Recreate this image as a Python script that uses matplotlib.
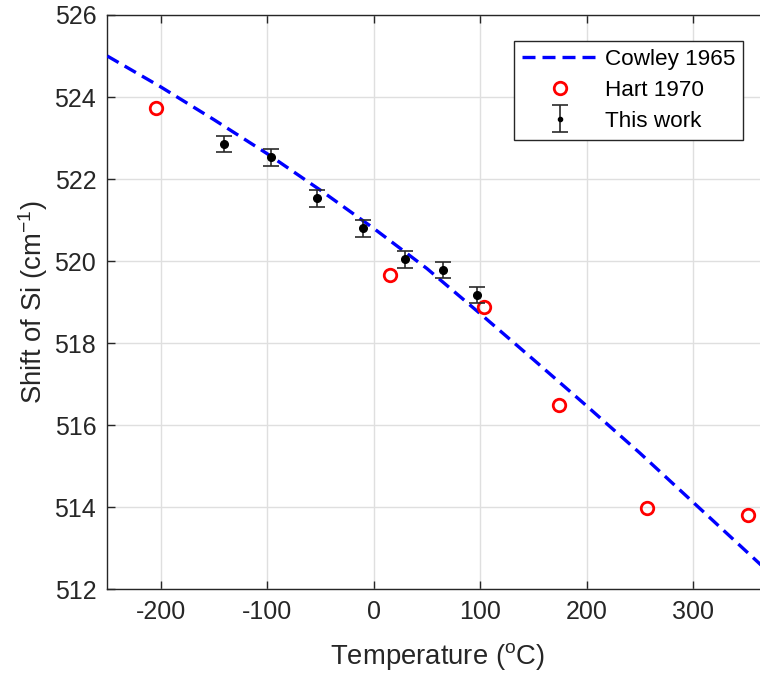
import matplotlib
matplotlib.use("Agg")
import matplotlib.pyplot as plt
from matplotlib.lines import Line2D
from matplotlib.legend_handler import HandlerErrorbar

plt.rcParams['font.family'] = ['Liberation Sans', 'DejaVu Sans']
plt.rcParams['mathtext.default'] = 'regular'

# Cowley 1965 (theoretical curve)
cowley_T = [-250, -200, -150, -100, -50, 0, 50, 100, 150, 200, 250, 300, 350, 370]
cowley_S = [525.0, 524.25, 523.45, 522.62, 521.73, 520.8, 519.82, 518.72, 517.6,
             516.47, 515.32, 514.12, 512.92, 512.44]

# Hart 1970
hart_T = [-204.4, 15.6, 103.8, 173.6, 256.2, 351.4]
hart_S = [523.74, 519.66, 518.87, 516.49, 513.99, 513.80]

# This work
work_T = [-140.9, -96.8, -52.7, -10.4, 29.7, 65.3, 97.5]
work_S = [522.86, 522.53, 521.53, 520.80, 520.04, 519.78, 519.17]
work_err = [0.2, 0.2, 0.2, 0.2, 0.2, 0.2, 0.2]

x_ticks = [-200, -100, 0, 100, 200, 300]
y_ticks = [512, 514, 516, 518, 520, 522, 524, 526]

W, H = 760, 680
fig = plt.figure(figsize=(W / 100, H / 100), dpi=100)
left = 107.3 / W
bottom = (H - 589.3) / H
top = (H - 15) / H
xmin, xmax = -250, 370
pxu = 1.0653
width = (xmax - xmin) * pxu / W
ax = fig.add_axes([left, bottom, width, top - bottom])

axcol = '#262626'
ax.plot(cowley_T, cowley_S, color='#0000FF', lw=2.4, dashes=(3.9, 2.1),
        label='Cowley 1965', zorder=3)
ax.plot(hart_T, hart_S, 'o', ls='none', mfc='none', mec='#FF0000', ms=9, mew=2.0,
        label='Hart 1970', zorder=4)
eb = ax.errorbar(work_T, work_S, yerr=work_err, fmt='o', color='k', ms=5.5,
                 ecolor='#2a2a2a', elinewidth=1.2, capsize=5.8, capthick=1.2,
                 label='This work', zorder=5)

ax.set_xlim(xmin, xmax)
ax.set_ylim(512, 526)
ax.set_xticks(x_ticks)
ax.set_yticks(y_ticks)
ax.set_xticklabels([str(t) for t in x_ticks])
ax.grid(True, color='#dfdfdf', lw=1.0)
ax.set_axisbelow(True)
for s in ax.spines.values():
    s.set_color(axcol)
    s.set_linewidth(1.0)
ax.tick_params(direction='in', length=5.5, width=1.0, color=axcol, labelcolor=axcol,
               labelsize=18, top=True, right=True, pad=8)

ax.set_xlabel('Temperature ($^{o}$C)', fontsize=19.8, color=axcol, labelpad=12)
ax.set_ylabel('Shift of Si (cm$^{-1}$)', fontsize=19.8, color=axcol, labelpad=3)


def upd(lh, oh):
    lh.update_from(oh)
    if isinstance(lh, Line2D) and oh.get_marker() == 'o':
        lh.set_markersize(3.0)


leg = ax.legend(loc='upper right', bbox_to_anchor=(743.3 / W, 1 - 40.7 / H),
                bbox_transform=fig.transFigure, borderaxespad=0, fontsize=16.2,
                frameon=True, fancybox=False, framealpha=1, edgecolor=axcol,
                handlelength=3.33, handletextpad=0.35, labelspacing=0.45,
                borderpad=0.35, numpoints=1,
                handler_map={type(eb): HandlerErrorbar(xerr_size=0.5, yerr_size=0.6,
                                                       update_func=upd)})
leg.get_frame().set_linewidth(1.0)
for t in leg.get_texts():
    t.set_color('k')

fig.savefig('out.png', dpi=100)
